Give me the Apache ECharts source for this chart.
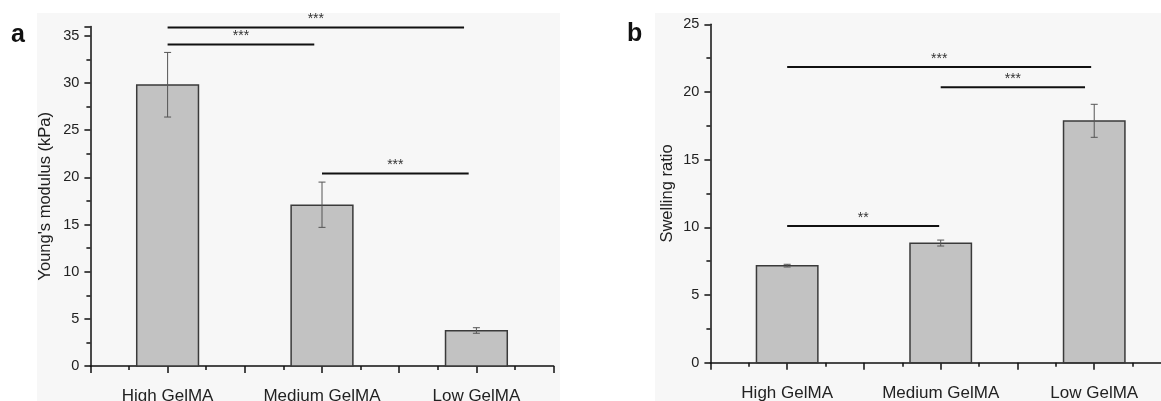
<!DOCTYPE html>
<html>
<head>
<meta charset="utf-8">
<script src="https://cdn.jsdelivr.net/npm/echarts@6/dist/echarts.min.js"></script>
<style>
  html, body { margin: 0; padding: 0; background: #fff; }
  #main { width: 1161px; height: 401px; }
</style>
</head>
<body>
<div id="main"></div>
<script>
var categories = ['High GelMA', 'Medium GelMA', 'Low GelMA'];
var positions = [1, 2, 3];

// panel a: Young's modulus (kPa)
var modulusMean = [29.8, 17.05, 3.75];
var modulusLow = [26.4, 14.7, 3.47];
var modulusHigh = [33.25, 19.5, 4.06];
// [from, to, height, stars]
var modulusSig = [[1, 2.92, 35.9, '***'], [1, 1.95, 34.1, '***'], [2, 2.95, 20.4, '***']];

// panel b: Swelling ratio
var swellMean = [7.17, 8.82, 17.86];
var swellLow = [7.07, 8.62, 16.65];
var swellHigh = [7.27, 9.06, 19.09];
var swellSig = [[1, 2.98, 21.85, '***'], [2, 2.94, 20.35, '***'], [1, 1.99, 10.1, '**']];

var dom = document.getElementById('main');
var myChart = echarts.init(dom, null, { renderer: 'canvas' });

function barItem(params, api) {
  var x = api.value(0), y = api.value(1);
  var p0 = api.coord([x - 0.2, y]);
  var p1 = api.coord([x + 0.2, 0]);
  return {
    type: 'rect',
    shape: { x: p0[0], y: p0[1], width: p1[0] - p0[0], height: p1[1] - p0[1] },
    style: { fill: '#c2c2c2', stroke: '#3a3a3a', lineWidth: 1.5 }
  };
}

function errItem(params, api) {
  var x = api.value(0);
  var lo = api.coord([x, api.value(1)]);
  var hi = api.coord([x, api.value(2)]);
  var st = { stroke: '#555', lineWidth: 1 };
  return {
    type: 'group',
    children: [
      { type: 'line', shape: { x1: lo[0], y1: lo[1], x2: hi[0], y2: hi[1] }, style: st },
      { type: 'line', shape: { x1: lo[0] - 3.5, y1: lo[1], x2: lo[0] + 3.5, y2: lo[1] }, style: st },
      { type: 'line', shape: { x1: hi[0] - 3.5, y1: hi[1], x2: hi[0] + 3.5, y2: hi[1] }, style: st }
    ]
  };
}

function sigItem(params, api) {
  var a = api.coord([api.value(0), api.value(2)]);
  var b = api.coord([api.value(1), api.value(2)]);
  return {
    type: 'group',
    children: [
      { type: 'line', shape: { x1: a[0], y1: a[1], x2: b[0], y2: b[1] }, style: { stroke: '#111', lineWidth: 2 } },
      { type: 'text', x: (a[0] + b[0]) / 2, y: a[1] - 8,
        style: { text: api.value(3), fill: '#333', font: '14px Liberation Sans', align: 'center', verticalAlign: 'middle' } }
    ]
  };
}

function zip(xs, a, b) {
  return xs.map(function (x, i) { return b ? [x, a[i], b[i]] : [x, a[i]]; });
}

function xAxisFor(gridIndex, max) {
  return {
    type: 'value', gridIndex: gridIndex, min: 0.5, max: max, interval: 0.5,
    axisLine: { lineStyle: { color: '#111', width: 1.5 } },
    axisTick: { show: true, length: 7, lineStyle: { color: '#111', width: 1.5 } },
    minorTick: { show: true, splitNumber: 2, length: 4, lineStyle: { color: '#111', width: 1.5 } },
    splitLine: { show: false },
    axisLabel: {
      margin: 22, color: '#222', fontSize: 17, fontFamily: 'Liberation Sans',
      formatter: function (v) {
        var i = positions.indexOf(v);
        return i >= 0 ? categories[i] : '';
      }
    }
  };
}

function yAxisFor(gridIndex, max, name, gap) {
  return {
    type: 'value', gridIndex: gridIndex, min: 0, max: max, interval: 5,
    name: name, nameLocation: 'middle', nameGap: gap,
    nameTextStyle: { color: '#222', fontSize: 16.5, fontFamily: 'Liberation Sans' },
    axisLine: { show: true, lineStyle: { color: '#111', width: 1.5 } },
    axisTick: { show: true, length: 6, lineStyle: { color: '#111', width: 1.5 } },
    minorTick: { show: true, splitNumber: 2, length: 4, lineStyle: { color: '#111', width: 1.5 } },
    splitLine: { show: false },
    axisLabel: { margin: 11, color: '#222', fontSize: 14.5, fontFamily: 'Liberation Sans' }
  };
}

var option = {
  animation: false,
  graphic: [
    { type: 'rect', z: -10, shape: { x: 37, y: 13, width: 523, height: 388 }, style: { fill: '#f7f7f7' } },
    { type: 'rect', z: -10, shape: { x: 655, y: 13, width: 506, height: 388 }, style: { fill: '#f7f7f7' } },
    { type: 'text', left: 11, top: 23, style: { text: 'a', font: 'bold 25px Liberation Sans', fill: '#111' } },
    { type: 'text', left: 627, top: 22, style: { text: 'b', font: 'bold 25px Liberation Sans', fill: '#111' } }
  ],
  grid: [
    { left: 90.4, top: 26.5, right: 607.4, bottom: 35, outerBoundsMode: 'none' },
    { left: 710.4, top: 24.3, right: -10, bottom: 38.3, outerBoundsMode: 'none' }
  ],
  xAxis: [xAxisFor(0, 3.5), xAxisFor(1, 3.5)],
  yAxis: [yAxisFor(0, 36, "Young's modulus (kPa)", 36), yAxisFor(1, 25, 'Swelling ratio', 34)],
  series: [
    { type: 'custom', xAxisIndex: 0, yAxisIndex: 0, renderItem: barItem, data: zip(positions, modulusMean) },
    { type: 'custom', xAxisIndex: 0, yAxisIndex: 0, renderItem: errItem, data: zip(positions, modulusLow, modulusHigh), z: 3 },
    { type: 'custom', xAxisIndex: 0, yAxisIndex: 0, renderItem: sigItem, clip: false, data: modulusSig, z: 4 },
    { type: 'custom', xAxisIndex: 1, yAxisIndex: 1, renderItem: barItem, data: zip(positions, swellMean) },
    { type: 'custom', xAxisIndex: 1, yAxisIndex: 1, renderItem: errItem, data: zip(positions, swellLow, swellHigh), z: 3 },
    { type: 'custom', xAxisIndex: 1, yAxisIndex: 1, renderItem: sigItem, clip: false, data: swellSig, z: 4 }
  ]
};

myChart.setOption(option);
window.addEventListener('resize', myChart.resize);
</script>
</body>
</html>
